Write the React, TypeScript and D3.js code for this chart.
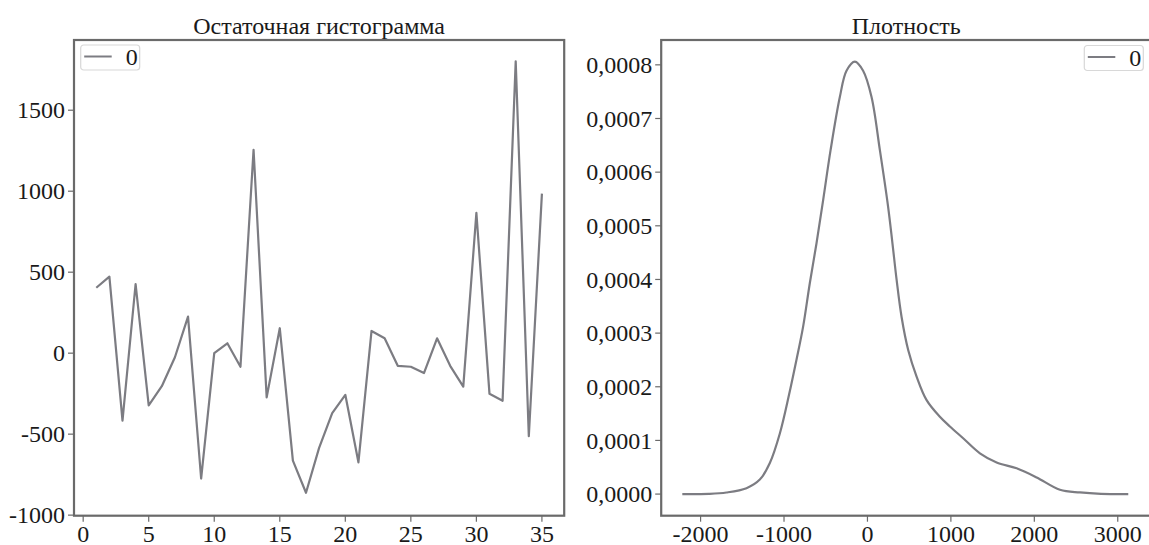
import React from "react";
import * as d3 from "d3";

// Residual series (left panel)
const residualX = [1,2,3,4,5,6,7,8,9,10,11,12,13,14,15,16,17,18,19,20,21,22,23,24,25,26,27,28,29,30,31,32,33,34,35];
const residualY = [404,472,-417,427,-322,-204,-25,226,-774,0,61,-84,1256,-273,154,-663,-862,-585,-370,-257,-674,137,92,-78,-84,-123,92,-78,-207,866,-251,-294,1802,-513,985];

// Density curve (right panel)
const densityX = [-2219,-1900,-1690,-1450,-1290,-1170,-1050,-940,-851,-771,-691,-611,-531,-442,-331,-251,-151,-52,49,149,248,300,349,409,489,589,709,868,988,1147,1348,1548,1788,2028,2307,2547,2800,3126];
const densityY = [0,0.0000005,0.000003,0.000011,0.000027,0.000058,0.000113,0.000185,0.00025,0.000312,0.000393,0.000467,0.000548,0.000641,0.00074,0.000789,0.000806,0.000789,0.00074,0.000641,0.000535,0.000467,0.0004,0.00033,0.000268,0.000219,0.000175,0.000144,0.000126,0.000104,0.000076,0.000059,0.000048,0.000031,0.000008,0.000003,0.0000005,0];

const leftXTicks = [0,5,10,15,20,25,30,35];
const leftYTicks = [-1000,-500,0,500,1000,1500];
const rightXTicks = [-2000,-1000,0,1000,2000,3000];
const rightYTicks = [0,0.0001,0.0002,0.0003,0.0004,0.0005,0.0006,0.0007,0.0008];

const titles = ["Остаточная гистограмма", "Плотность"];
const legendLabel = "0";

const FONT = "'Liberation Serif', 'Times New Roman', serif";
const LINE = "#7c7c82";
const SPINE = "#6a6a6a";
const TEXT = "#1a1a1a";
const FS = 24;

function Legend({ x, y }: { x: number; y: number }) {
  return (
    <g transform={`translate(${x},${y})`}>
      <rect x={0} y={0} width={59} height={25} rx={3} fill="#fff" fillOpacity={0.8} stroke="#d8d8d8" strokeWidth={1.2} />
      <line x1={3.5} x2={31} y1={11.5} y2={11.5} stroke={LINE} strokeWidth={2} />
      <text x={45} y={20} fontSize={FS} fontFamily={FONT} fill={TEXT}>{legendLabel}</text>
    </g>
  );
}

export default function App() {
  const top = 40, bottom = 515.7;
  // Left panel scales
  const xL = d3.scaleLinear().domain([-0.7, 36.7]).range([74, 564.2]);
  const yL = d3.scaleLinear().domain([-1003.5, 1933.5]).range([bottom, top]);
  // Right panel scales
  const xR = d3.scaleLinear().domain([-2472, 3402]).range([661.2, 1151.3]);
  const yR = d3.scaleLinear().domain([-0.0000403, 0.0008463]).range([bottom, top]);

  const lineL = d3.line<number>().x((_, i) => xL(residualX[i])).y((d) => yL(d));
  const lineR = d3.line<number>().x((_, i) => xR(densityX[i])).y((d) => yR(d)).curve(d3.curveCatmullRom.alpha(0.5));

  const fmtR = (v: number) => d3.format(".4f")(v).replace(".", ",");
  const fmtL = (v: number) => String(v);

  const tickLen = 6;

  const axes = (
    x: d3.ScaleLinear<number, number>,
    y: d3.ScaleLinear<number, number>,
    xt: number[],
    yt: number[],
    fx: (v: number) => string,
    fy: (v: number) => string
  ) => {
    const [x0, x1] = x.range();
    return (
      <g>
        <rect x={x0} y={top} width={x1 - x0} height={bottom - top} fill="none" stroke={SPINE} strokeWidth={2.2} />
        {yt.map((t) => (
          <g key={"y" + t}>
            <line x1={x0 - tickLen} x2={x0} y1={y(t)} y2={y(t)} stroke={SPINE} strokeWidth={1.2} />
            <text x={x0 - tickLen - 3} y={y(t)} dy="0.34em" textAnchor="end" fontSize={FS} fontFamily={FONT} fill={TEXT}>{fy(t)}</text>
          </g>
        ))}
        {xt.map((t) => (
          <g key={"x" + t}>
            <line x1={x(t)} x2={x(t)} y1={bottom} y2={bottom + tickLen} stroke={SPINE} strokeWidth={1.2} />
            <text x={x(t)} y={542} textAnchor="middle" fontSize={FS} fontFamily={FONT} fill={TEXT}>{fx(t)}</text>
          </g>
        ))}
      </g>
    );
  };

  return (
    <svg width={1149} height={545} style={{ position: "absolute", left: 0, top: 0, background: "#fff" }}>
      {/* Left panel */}
      <text x={(74 + 564.2) / 2} y={34} textAnchor="middle" fontSize={FS} fontFamily={FONT} fill={TEXT}>{titles[0]}</text>
      <path d={lineL(residualY) || ""} fill="none" stroke={LINE} strokeWidth={2.2} strokeLinejoin="round" />
      {axes(xL, yL, leftXTicks, leftYTicks, fmtL, fmtL)}
      <Legend x={80.7} y={45} />

      {/* Right panel */}
      <text x={(661.2 + 1151.3) / 2} y={34} textAnchor="middle" fontSize={FS} fontFamily={FONT} fill={TEXT}>{titles[1]}</text>
      <path d={lineR(densityY) || ""} fill="none" stroke={LINE} strokeWidth={2.2} strokeLinejoin="round" />
      {axes(xR, yR, rightXTicks, rightYTicks, (v) => String(v), fmtR)}
      <Legend x={1084.3} y={45.5} />
    </svg>
  );
}
